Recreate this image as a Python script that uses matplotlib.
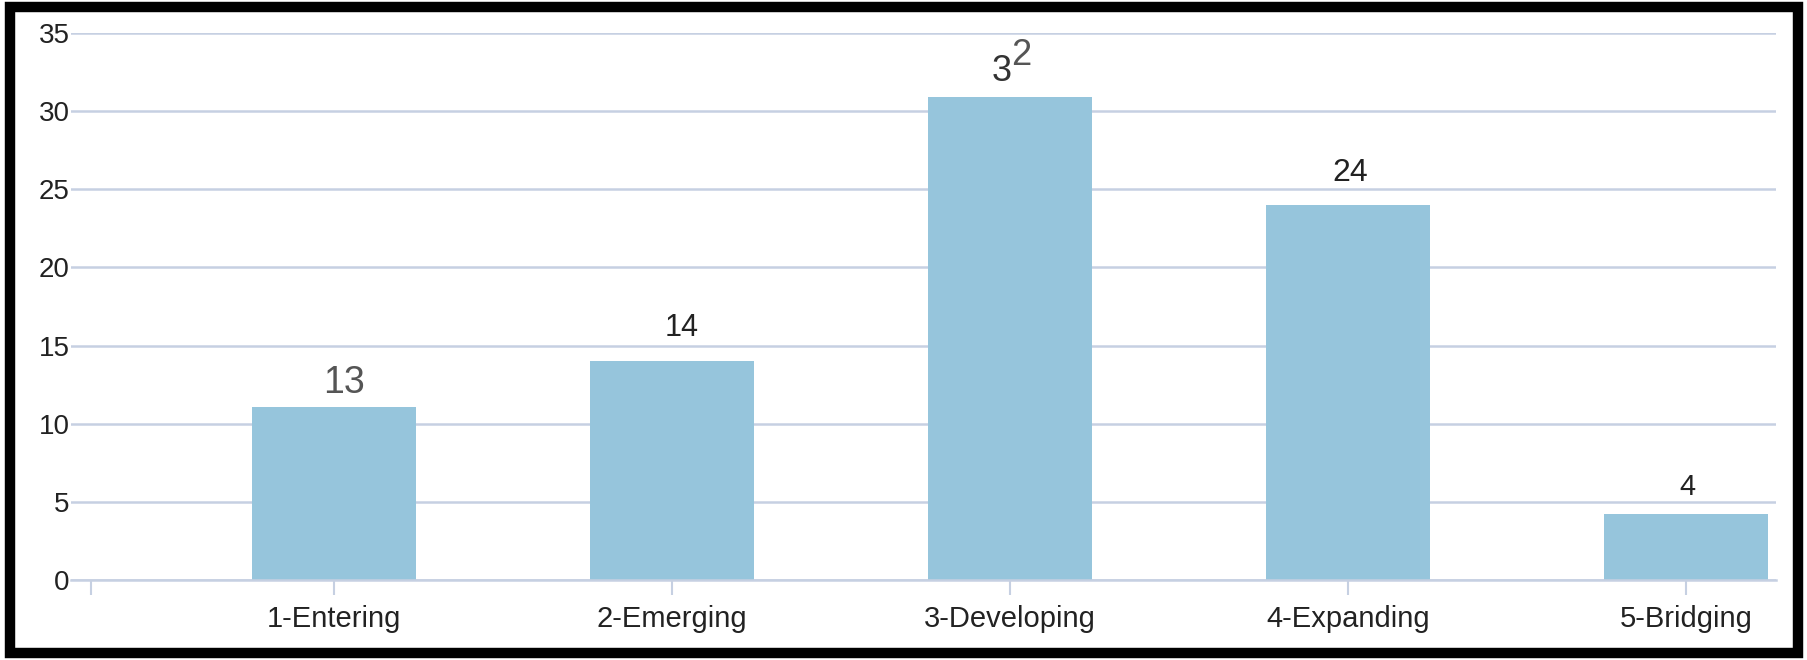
import matplotlib.pyplot as plt
from matplotlib.patches import Rectangle

# Data
categories = ['1-Entering', '2-Emerging', '3-Developing', '4-Expanding', '5-Bridging']
bar_heights = [11.1, 14.0, 30.9, 24.0, 4.2]
bar_labels = ['13', '14', '32', '24', '4']
y_ticks = [0, 5, 10, 15, 20, 25, 30, 35]

bar_color = '#96C5DC'
grid_color = '#C6D0E2'

fig = plt.figure(figsize=(18.08, 6.6), dpi=100)
ax = fig.add_axes([0.0393, 0.1212, 0.943, 0.8288])

x = list(range(len(categories)))
ax.bar(x, bar_heights, width=0.485, color=bar_color, zorder=2)

# value labels (the original has odd offsets / sizes per label)
offsets = [(10, 24), (10, 33), (0, 26), (2, 32), (1, 27)]
sizes = [27, 22, 26, 23, 21]
colors = ['#555555', '#222222', '#444444', '#222222', '#222222']
for i, (h, lab) in enumerate(zip(bar_heights, bar_labels)):
    dx, dy = offsets[i]
    if lab == '32':
        # rendered as a "3" with a raised "2" in the source image
        ax.annotate(lab[0], (x[i], h), xytext=(dx - 8, dy), textcoords='offset pixels',
                    ha='center', va='center', fontsize=sizes[i], color='#333333',
                    family='Liberation Sans')
        ax.annotate(lab[1], (x[i], h), xytext=(dx + 11, dy + 16), textcoords='offset pixels',
                    ha='center', va='center', fontsize=sizes[i], color='#555555',
                    family='Liberation Sans')
    else:
        ax.annotate(lab, (x[i], h), xytext=(dx, dy), textcoords='offset pixels',
                    ha='center', va='center', fontsize=sizes[i], color=colors[i],
                    family='Liberation Sans')

ax.set_ylim(0, 35)
ax.set_xlim(-0.778, 4.266)
ax.set_yticks(y_ticks)
ax.set_yticklabels([str(v) for v in y_ticks], fontsize=20, color='#222222',
                   family='Liberation Sans')
ax.set_xticks([-0.72] + x)
ax.set_xticklabels([''] + categories, fontsize=21, color='#222222',
                   family='Liberation Sans')

ax.yaxis.grid(True, color=grid_color, linewidth=1.8, zorder=0)
ax.set_axisbelow(True)
ax.tick_params(axis='y', length=0, pad=1)
ax.tick_params(axis='x', length=11, width=1.5, color=grid_color, pad=7)
for side in ['left', 'top', 'right']:
    ax.spines[side].set_visible(False)
ax.spines['bottom'].set_color(grid_color)
ax.spines['bottom'].set_linewidth(1.8)

# black frame around the whole picture
fig.patches.append(Rectangle((10 / 1808, 7 / 660), 1788 / 1808, 646 / 660,
                             transform=fig.transFigure, fill=False,
                             edgecolor='black', linewidth=7.5))

fig.savefig('out.png', dpi=100)
